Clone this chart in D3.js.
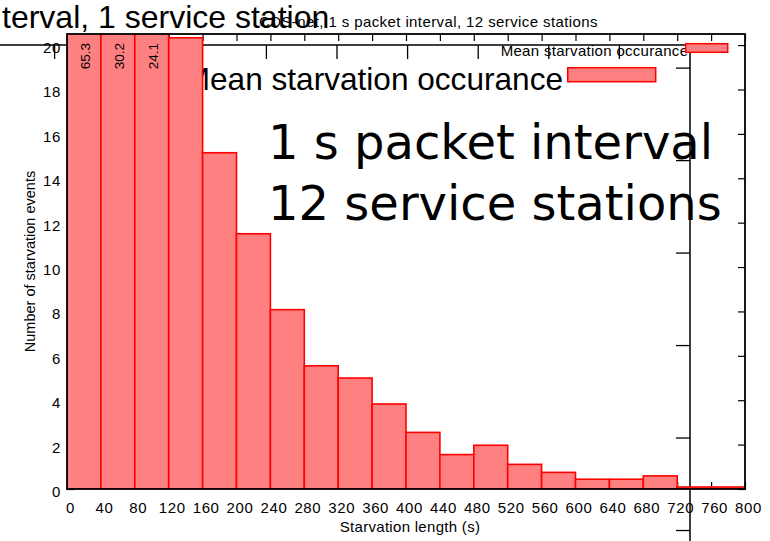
<!DOCTYPE html>
<html><head><meta charset="utf-8">
<script src="https://cdn.jsdelivr.net/npm/d3@7"></script>
<style>body{margin:0;background:#fff}svg{display:block}</style>
</head><body><svg id="c" width="770" height="541"></svg>
<script>
// ---- data ----
const binStarts = [0,40,80,120,160,200,240,280,320,360,400,440,480,520,560,600,640,680,720,760];
const binWidth = 40;
const counts = [65.3,30.2,24.1,20.33,15.15,11.5,8.08,5.55,5.0,3.83,2.55,1.55,1.97,1.11,0.75,0.44,0.44,0.59,0.09,0.09];
const barLabels = ["65.3","30.2","24.1"];
const xTicks = [0,40,80,120,160,200,240,280,320,360,400,440,480,520,560,600,640,680,720,760,800];
const yTicks = [0,2,4,6,8,10,12,14,16,18,20];
const mainTitle = "CDS-net, 1 s packet interval, 12 service stations";
const bigTitle = "terval, 1 service station";
const legendLabel = "Mean starvation occurance";
const noteLines = ["1 s packet interval", "12 service stations"];
const xLabel = "Starvation length (s)";
const yLabel = "Number of starvation events";

const SANS = "'Liberation Sans', Arial, sans-serif";
const svg = d3.select("#c");
const FILL = "#ff8080", STROKE = "#ff0000";

// ---- ghost (large) plot underneath ----
const x2 = d3.scaleLinear().domain([0,800]).range([-722,690]);
const y2 = d3.scaleLinear().domain([0,20.5]).range([45+20.5*46.24,45]);
const g2 = svg.append("g");
g2.append("text").attr("x",2).attr("y",28).attr("font-family",SANS).attr("font-size",32).text(bigTitle);
g2.append("path").attr("fill","none").attr("stroke","#000").attr("stroke-width",1.5)
  .attr("d",`M${x2(0)},${y2(20.5)}H${x2(800)}V${y2(0)}`);
g2.selectAll("line.tx").data(xTicks.filter(v=>x2(v)>-5 && v<800)).join("line")
  .attr("x1",d=>x2(d)).attr("x2",d=>x2(d)).attr("y1",y2(20.5)).attr("y2",y2(20.5)+14)
  .attr("stroke","#000").attr("stroke-width",1.3);
g2.selectAll("line.ty").data(yTicks.filter(v=>y2(v)<560 && v<20.5)).join("line")
  .attr("x1",x2(800)-14).attr("x2",x2(800)).attr("y1",d=>y2(d)).attr("y2",d=>y2(d))
  .attr("stroke","#000").attr("stroke-width",1.3);
g2.append("text").attr("x",563).attr("y",90).attr("text-anchor","end")
  .attr("font-family",SANS).attr("font-size",31.6).text(legendLabel);
g2.append("rect").attr("x",567.7).attr("y",67.7).attr("width",88).attr("height",14)
  .attr("fill",FILL).attr("stroke",STROKE).attr("stroke-width",1.5);
g2.selectAll("text.note").data(noteLines).join("text")
  .attr("x",268).attr("y",(d,i)=>159+i*61)
  .attr("font-family","'DejaVu Sans', sans-serif").attr("font-size",48).text(d=>d);

// ---- main plot ----
const m = {l:67, r:745, t:34, b:489};
const x = d3.scaleLinear().domain([0,800]).range([m.l,m.r]);
const y = d3.scaleLinear().domain([0,20.5]).range([m.b,m.t]);
const g = svg.append("g");

function styleAxis(sel){
  sel.select(".domain").remove();
  sel.attr("font-family",SANS).attr("font-size",15);
  sel.selectAll(".tick line").attr("stroke","#000").attr("stroke-width",1.2);
  sel.selectAll(".tick text").attr("fill","#000");
}
const axB = g.append("g").attr("transform",`translate(0,${m.b})`)
  .call(d3.axisBottom(x).tickValues(xTicks).tickSize(-7).tickPadding(13).tickFormat(d3.format("d")));
styleAxis(axB);
axB.selectAll(".tick text").attr("dx",3).attr("letter-spacing",0.6);
const axL = g.append("g").attr("transform",`translate(${m.l},0)`)
  .call(d3.axisLeft(y).tickValues(yTicks).tickSize(-7).tickPadding(6).tickFormat(d3.format("d")));
styleAxis(axL);
axL.selectAll(".tick text").attr("dy","0.5em").attr("letter-spacing",0.6);
const axT = g.append("g").attr("transform",`translate(0,${m.t})`)
  .call(d3.axisTop(x).tickValues(xTicks).tickSize(-7).tickFormat(""));
styleAxis(axT);
const axR = g.append("g").attr("transform",`translate(${m.r},0)`)
  .call(d3.axisRight(y).tickValues(yTicks).tickSize(-7).tickFormat(""));
styleAxis(axR);

svg.append("defs").append("clipPath").attr("id","pc").append("rect")
  .attr("x",m.l).attr("y",m.t).attr("width",m.r-m.l).attr("height",m.b-m.t);
const bars = g.append("g").attr("clip-path","url(#pc)");
bars.selectAll("rect").data(binStarts).join("rect")
  .attr("x",d=>x(d)).attr("width",d=>x(d+binWidth)-x(d))
  .attr("y",(d,i)=>y(counts[i])).attr("height",(d,i)=>y(0)-y(counts[i]))
  .attr("fill",FILL).attr("stroke",STROKE).attr("stroke-width",1.6);

g.append("rect").attr("x",m.l).attr("y",m.t).attr("width",m.r-m.l).attr("height",m.b-m.t)
  .attr("fill","none").attr("stroke","#000").attr("stroke-width",1.8);

// bar value labels (clipped bars)
g.selectAll("text.bl").data(barLabels).join("text")
  .attr("transform",(d,i)=>`translate(${x(binStarts[i]+binWidth/2)+1.5},43) rotate(-90)`)
  .attr("text-anchor","end").attr("dominant-baseline","central")
  .attr("font-family",SANS).attr("font-size",13.5).text(d=>d);

// titles and labels
g.append("text").attr("x",259).attr("y",26.5).attr("font-family",SANS).attr("font-size",15)
  .attr("letter-spacing",0.4).text(mainTitle);
g.append("text").attr("x",410).attr("y",532).attr("text-anchor","middle").attr("font-family",SANS)
  .attr("font-size",15).attr("letter-spacing",0.3).text(xLabel);
g.append("text").attr("transform","translate(35,261.5) rotate(-90)").attr("text-anchor","middle")
  .attr("font-family",SANS).attr("font-size",14.5).text(yLabel);

// small legend
g.append("text").attr("x",500.7).attr("y",56).attr("font-family",SANS).attr("font-size",15)
  .attr("letter-spacing",0.3).text(legendLabel);
g.append("rect").attr("x",685.7).attr("y",43.7).attr("width",42).attr("height",8.6)
  .attr("fill",FILL).attr("stroke",STROKE).attr("stroke-width",1.5);
</script></body></html>
